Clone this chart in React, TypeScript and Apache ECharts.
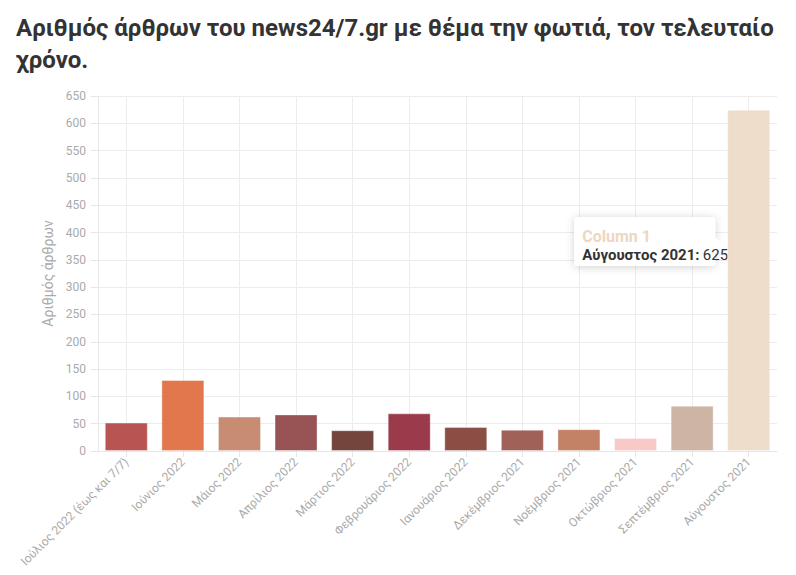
import React, { useEffect, useRef } from "react";
import * as echarts from "echarts";

const TITLE = "Αριθμός άρθρων του news24/7.gr με θέμα την φωτιά, τον τελευταίο\nχρόνο.";
const Y_NAME = "Αριθμός άρθρων";
const SERIES_NAME = "Column 1";

const categories = [
  "Ιούλιος 2022 (έως και 7/7)",
  "Ιούνιος 2022",
  "Μάιος 2022",
  "Απρίλιος 2022",
  "Μάρτιος 2022",
  "Φεβρουάριος 2022",
  "Ιανουάριος 2022",
  "Δεκέμβριος 2021",
  "Νοέμβριος 2021",
  "Οκτώβριος 2021",
  "Σεπτέμβριος 2021",
  "Αύγουστος 2021",
];

const values = [52, 130, 63, 67, 38, 69, 44, 39, 40, 24, 83, 625];

const barColors = [
  "#b44b48",
  "#e07043",
  "#c4866a",
  "#924a4b",
  "#6c3b31",
  "#952f41",
  "#84453b",
  "#9b5a4f",
  "#c07a5d",
  "#f9c6c5",
  "#cab0a0",
  "#eedbc9",
];

const FONT = "Roboto, 'Noto Sans', sans-serif";
const GRID_COLOR = "#ececec";
const LABEL_COLOR = "#aaaaaa";

export default function App() {
  const ref = useRef<HTMLDivElement>(null);

  useEffect(() => {
    document.body.style.margin = "0";
    if (!ref.current) return;
    const chart = echarts.init(ref.current, null, { renderer: "svg" });
    const option: any = {
      animation: false,
      backgroundColor: "#ffffff",
      textStyle: { fontFamily: FONT },
      title: {
        text: TITLE,
        left: 11,
        top: 7,
        textStyle: {
          fontFamily: FONT,
          fontSize: 24,
          fontWeight: "bold",
          color: "#333333",
          lineHeight: 32,
        },
      },
      grid: { left: 98, right: 19, top: 96, bottom: 124 },
      xAxis: {
        type: "category",
        data: categories,
        axisLine: { show: true, lineStyle: { color: "#e6e6e6" } },
        axisTick: { show: true, alignWithLabel: true, length: 6, lineStyle: { color: "#e6e6e6" } },
        axisLabel: {
          rotate: 45,
          interval: 0,
          margin: 9,
          color: LABEL_COLOR,
          fontSize: 12,
          fontFamily: FONT,
        },
        splitLine: { show: false },
      },
      yAxis: {
        type: "value",
        min: 0,
        max: 650,
        interval: 50,
        name: Y_NAME,
        nameLocation: "middle",
        nameGap: 42,
        nameTextStyle: { color: LABEL_COLOR, fontSize: 14, fontFamily: FONT },
        axisLine: { show: true, lineStyle: { color: "#e6e6e6" } },
        axisTick: { show: true, length: 7, lineStyle: { color: "#e6e6e6" } },
        axisLabel: { color: LABEL_COLOR, fontSize: 12, margin: 12, fontFamily: FONT },
        splitLine: { show: true, lineStyle: { color: GRID_COLOR } },
      },
      series: [
        {
          type: "line",
          data: [],
          z: 0,
          silent: true,
          markLine: {
            z: 0,
            silent: true,
            symbol: ["none", "none"],
            label: { show: false },
            lineStyle: { color: GRID_COLOR, type: "solid", width: 1 },
            data: categories.map((c) => ({ xAxis: c })),
          },
        },
        {
          name: SERIES_NAME,
          type: "bar",
          z: 2,
          barCategoryGap: "24%",
          data: values.map((v, i) => ({
            value: v,
            itemStyle: {
              color: barColors[i],
              opacity: 0.95,
              borderColor: "rgba(255,255,255,0.4)",
              borderWidth: 1,
            },
          })),
        },
      ],
    };
    chart.setOption(option);

    // Tooltip-like annotation for the last bar
    const last = categories.length - 1;
    const centerX = chart.convertToPixel({ xAxisIndex: 0 }, categories[last]) as number;
    const gridW = 796 - 98 - 19;
    const barW = (gridW / categories.length) * 0.76;
    const tipX = centerX - barW / 2 - 3;
    const tipY = 245;
    const boxW = 141;
    const boxH = 49;
    const boxX = tipX - 9 - boxW;
    const boxY = tipY - 28;
    chart.setOption({
      graphic: [
        {
          type: "group",
          z: 100,
          children: [
            {
              type: "rect",
              shape: { x: boxX, y: boxY, width: boxW, height: boxH, r: 3 },
              style: {
                fill: "#ffffff",
                shadowBlur: 8,
                shadowColor: "rgba(0,0,0,0.18)",
                shadowOffsetY: 1,
              },
            },
            {
              type: "polygon",
              shape: {
                points: [
                  [tipX - 10, tipY - 9],
                  [tipX, tipY],
                  [tipX - 10, tipY + 9],
                ],
              },
              style: { fill: "#ffffff" },
            },
            {
              type: "text",
              x: boxX + 8,
              y: boxY + 19,
              style: {
                text: SERIES_NAME,
                fill: "#efd6c0",
                font: `bold 16px ${FONT}`,
                verticalAlign: "middle",
              },
            },
            {
              type: "text",
              x: boxX + 8,
              y: boxY + 38,
              style: {
                text: `{b|${categories[last]}:} {v|${values[last]}}`,
                verticalAlign: "middle",
                rich: {
                  b: { fontWeight: "bold", fontSize: 15, fill: "#333333", fontFamily: FONT },
                  v: { fontSize: 15, fill: "#333333", fontFamily: FONT },
                },
              },
            },
          ],
        },
      ],
    });

    return () => chart.dispose();
  }, []);

  return <div ref={ref} style={{ width: 796, height: 575 }} />;
}
